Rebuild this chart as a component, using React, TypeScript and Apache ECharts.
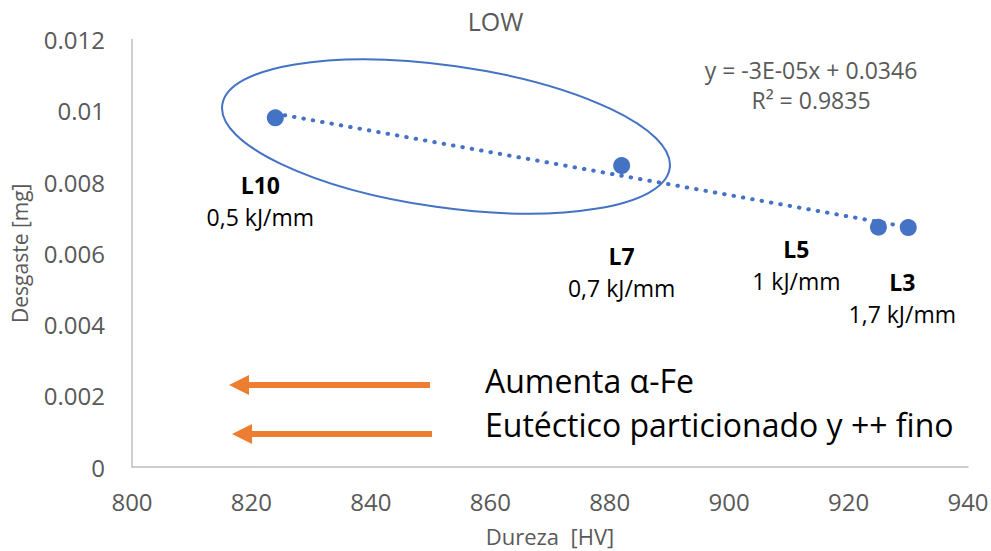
import React, { useEffect, useRef } from "react";
import * as echarts from "echarts";

const hardness = [824, 882, 925, 930];
const wear = [0.0098, 0.00846, 0.00673, 0.00672];
const sampleNames = ["L10", "L7", "L5", "L3"];
const heatInputs = ["0,5 kJ/mm", "0,7 kJ/mm", "1 kJ/mm", "1,7 kJ/mm"];
const labelOffsets = [[-15, 83], [0, 106], [-82, 38], [-6, 70]];
const chartTitle = "LOW";
const equationText = "y = -3E-05x + 0.0346";
const r2Text = "R² = 0.9835";
const noteLines = ["Aumenta \u03b1-Fe", "Eutéctico particionado y ++ fino"];

const FONT = "'Open Sans', sans-serif";
const BLUE = "#4472C4";
const ORANGE = "#ED7D31";
const GRAY = "#595959";

function regression(xs: number[], ys: number[]) {
  const n = xs.length;
  const mx = xs.reduce((a, b) => a + b, 0) / n;
  const my = ys.reduce((a, b) => a + b, 0) / n;
  let sxy = 0, sxx = 0;
  for (let i = 0; i < n; i++) {
    sxy += (xs[i] - mx) * (ys[i] - my);
    sxx += (xs[i] - mx) ** 2;
  }
  const slope = sxy / sxx;
  return { slope, intercept: my - slope * mx };
}

export default function App() {
  const ref = useRef<HTMLDivElement>(null);
  useEffect(() => {
    if (!ref.current) return;
    const chart = echarts.init(ref.current, null, { renderer: "svg" });
    const { slope, intercept } = regression(hardness, wear);
    const xMin = Math.min(...hardness);
    const xMax = Math.max(...hardness);
    const trend = [
      [xMin, slope * xMin + intercept],
      [xMax, slope * xMax + intercept],
    ];
    const points = hardness.map((x, i) => ({
      value: [x, wear[i]],
      name: sampleNames[i],
      label: {
        offset: labelOffsets[i],
        formatter: `{b|${sampleNames[i]}}\n{n|${heatInputs[i]}}`,
      },
    }));

    const arrow = (x1: number, x2: number, y: number) => [
      {
        type: "line",
        shape: { x1, y1: y, x2: x2 + 16, y2: y },
        style: { stroke: ORANGE, lineWidth: 6 },
      },
      {
        type: "polygon",
        shape: { points: [[x2, y], [x2 + 20, y - 10], [x2 + 20, y + 10]] },
        style: { fill: ORANGE },
      },
    ];

    chart.setOption({
      animation: false,
      backgroundColor: "#ffffff",
      title: {
        text: chartTitle,
        left: "center",
        top: 3,
        textStyle: { fontFamily: FONT, fontSize: 25, fontWeight: "normal", color: GRAY },
      },
      grid: {
        left: 132,
        right: 23,
        top: 39.5,
        bottom: 84,
        containLabel: false,
        outerBoundsMode: "none",
      },
      xAxis: {
        type: "value",
        min: 800,
        max: 940,
        interval: 20,
        name: "Dureza  [HV]",
        nameLocation: "middle",
        nameGap: 58,
        nameTextStyle: { fontFamily: FONT, fontSize: 22, color: GRAY },
        axisLine: { show: true, lineStyle: { color: "#BFBFBF", width: 1.5 } },
        axisTick: { show: false },
        splitLine: { show: false },
        axisLabel: { fontFamily: FONT, fontSize: 24, color: GRAY, margin: 22 },
      },
      yAxis: {
        type: "value",
        min: 0,
        max: 0.012,
        interval: 0.002,
        name: "Desgaste [mg]",
        nameLocation: "middle",
        nameGap: 102,
        nameTextStyle: { fontFamily: FONT, fontSize: 21, color: GRAY },
        axisLine: { show: true, lineStyle: { color: "#BFBFBF", width: 1.5 } },
        axisTick: { show: false },
        splitLine: { show: false },
        axisLabel: {
          fontFamily: FONT,
          fontSize: 24,
          color: GRAY,
          margin: 27,
          formatter: (v: number) => String(+v.toFixed(3)),
        },
      },
      series: [
        {
          type: "line",
          data: trend,
          symbol: "none",
          lineStyle: { color: BLUE, width: 4, type: [0.5, 9], cap: "round" },
          z: 2,
        },
        {
          type: "scatter",
          data: points,
          symbolSize: 17,
          itemStyle: { color: BLUE, opacity: 1 },
          z: 3,
          label: {
            show: true,
            position: "inside",
            align: "center",
            verticalAlign: "middle",
            lineHeight: 32,
            rich: {
              b: { fontFamily: FONT, fontSize: 23, fontWeight: "bold", color: "#000", lineHeight: 32 },
              n: { fontFamily: FONT, fontSize: 23, color: "#000", lineHeight: 32 },
            },
          },
        },
      ],
      graphic: [
        {
          type: "ellipse",
          x: 446,
          y: 136.5,
          rotation: -0.14,
          shape: { cx: 0, cy: 0, rx: 226, ry: 71 },
          style: { fill: "none", stroke: BLUE, lineWidth: 2 },
          z: 10,
        },
        {
          type: "text",
          x: 811,
          y: 70,
          style: {
            text: equationText,
            fontFamily: FONT,
            fontSize: 23,
            fill: GRAY,
            textAlign: "center",
            textVerticalAlign: "middle",
          },
        },
        {
          type: "text",
          x: 811,
          y: 100,
          style: {
            text: r2Text,
            fontFamily: FONT,
            fontSize: 23,
            fill: GRAY,
            textAlign: "center",
            textVerticalAlign: "middle",
          },
        },
        ...arrow(430, 229, 385),
        ...arrow(432, 232, 434),
        {
          type: "text",
          x: 485,
          y: 380,
          style: {
            text: noteLines[0],
            fontFamily: FONT,
            fontSize: 32,
            fill: "#000",
            textAlign: "left",
            textVerticalAlign: "middle",
          },
        },
        {
          type: "text",
          x: 485,
          y: 424,
          style: {
            text: noteLines[1],
            fontFamily: FONT,
            fontSize: 32,
            fill: "#000",
            textAlign: "left",
            textVerticalAlign: "middle",
          },
        },
      ],
    });
    return () => chart.dispose();
  }, []);
  return (
    <div
      ref={ref}
      style={{ position: "absolute", left: 0, top: 0, width: 991, height: 551 }}
    />
  );
}
